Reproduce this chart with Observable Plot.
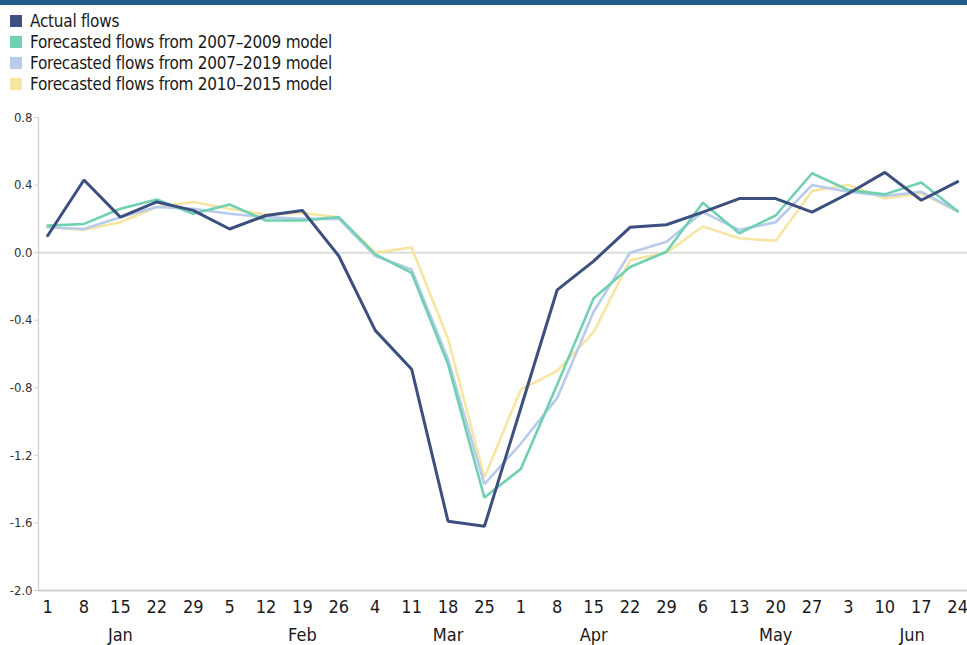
<!DOCTYPE html>
<html>
<head>
<meta charset="utf-8">
<script src="https://cdn.jsdelivr.net/npm/d3@7"></script>
<script src="https://cdn.jsdelivr.net/npm/@observablehq/plot@0.6"></script>
<style>
  html, body { margin: 0; padding: 0; background: #fff; }
  body { width: 967px; height: 645px; overflow: hidden; position: relative;
         font-family: "Liberation Sans Narrow", "DejaVu Sans Condensed", sans-serif; }
  #bar { position: absolute; left: 0; top: 0; width: 967px; height: 5px; background: #1f5c8b; }
  #legend { position: absolute; left: 10px; top: 10px; }
  .item { display: flex; align-items: center; height: 21px; font-size: 17px; letter-spacing: -0.25px; color: #1a1a1a; }
  .sw { width: 12px; height: 12px; margin-right: 8px; flex: none; }
  #chart { position: absolute; left: 0; top: 100px; }
</style>
</head>
<body>
<div id="bar"></div>
<div id="legend"></div>
<div id="chart"></div>
<script>
const weeks = ["1","8","15","22","29","5","12","19","26","4","11","18","25","1","8","15","22","29","6","13","20","27","3","10","17","24"];
const months = ["Jan","Feb","Mar","Apr","May","Jun"];
const monthPos = [2, 7, 11, 15, 20, 23.75];
const yTicks = [-2.0, -1.6, -1.2, -0.8, -0.4, 0.0, 0.4, 0.8];

const seriesNames = [
  "Actual flows",
  "Forecasted flows from 2007–2009 model",
  "Forecasted flows from 2007–2019 model",
  "Forecasted flows from 2010–2015 model"
];
const seriesColors = ["#3c4f7f", "#6fd1b2", "#b9cbeb", "#f7e5a2"];

const actual    = [0.10,0.43,0.21,0.30,0.25,0.14,0.22,0.25,-0.02,-0.46,-0.69,-1.59,-1.62,-0.92,-0.22,-0.05,0.15,0.165,0.24,0.32,0.32,0.24,0.35,0.475,0.31,0.42];
const model0709 = [0.16,0.17,0.26,0.315,0.23,0.285,0.19,0.19,0.21,-0.01,-0.12,-0.66,-1.45,-1.28,-0.78,-0.27,-0.085,0.005,0.295,0.115,0.22,0.47,0.37,0.345,0.415,0.245];
const model0719 = [0.15,0.14,0.21,0.27,0.26,0.23,0.21,0.20,0.20,-0.02,-0.10,-0.63,-1.37,-1.13,-0.86,-0.35,0.0,0.065,0.24,0.135,0.18,0.40,0.36,0.335,0.36,0.245];
const model1015 = [0.15,0.135,0.18,0.27,0.30,0.26,0.225,0.235,0.21,0.0,0.03,-0.51,-1.33,-0.81,-0.70,-0.47,-0.045,0.0,0.155,0.085,0.07,0.365,0.40,0.32,0.35,0.245];

const allSeries = [actual, model0709, model0719, model1015];
const rows = [];
allSeries.forEach((vals, s) => vals.forEach((v, i) => rows.push({s, i, v})));

// legend
const leg = document.getElementById("legend");
seriesNames.forEach((n, k) => {
  const d = document.createElement("div");
  d.className = "item";
  d.innerHTML = `<span class="sw" style="background:${seriesColors[k]}"></span><span>${n}</span>`;
  leg.appendChild(d);
});

const drawOrder = [3, 2, 1, 0];
const lineMarks = drawOrder.map(s => Plot.line(rows.filter(r => r.s === s), {
  x: "i", y: "v", stroke: seriesColors[s], strokeWidth: s === 0 ? 3 : 2.6,
  strokeLinejoin: "miter", curve: "linear"
}));

const chart = Plot.plot({
  width: 967,
  height: 545,
  marginTop: 17,
  marginBottom: 55,
  marginLeft: 38,
  marginRight: 0,
  style: { fontFamily: '"Liberation Sans Narrow", "DejaVu Sans Condensed", sans-serif', background: "transparent" },
  x: { domain: [-0.25, 25.27], axis: null },
  y: { domain: [-2, 0.8], axis: null },
  marks: [
    Plot.ruleY([0], { stroke: "#dcdcdc", strokeWidth: 2 }),
    Plot.ruleX([-0.25], { y1: -2, y2: 0.8, stroke: "#cfcfcf", strokeWidth: 1.2 }),
    Plot.ruleY([-2], { x1: -0.25, x2: 25.27, stroke: "#cfcfcf", strokeWidth: 2 }),
    Plot.axisY({ ticks: yTicks, tickFormat: d => d.toFixed(1), tickSize: 4, tickPadding: 2, label: null,
                 fontSize: 13, stroke: "#cfcfcf", color: "#333" }),
    Plot.text(weeks, { x: (d, i) => i, y: () => -2, text: d => d, dy: 17, fontSize: 18, fill: "#1a1a1a" }),
    Plot.text(months, { x: (d, i) => monthPos[i], y: () => -2, text: d => d, dy: 45, fontSize: 18, fill: "#1a1a1a" }),
    ...lineMarks
  ]
});
document.getElementById("chart").appendChild(chart);
</script>
</body>
</html>
